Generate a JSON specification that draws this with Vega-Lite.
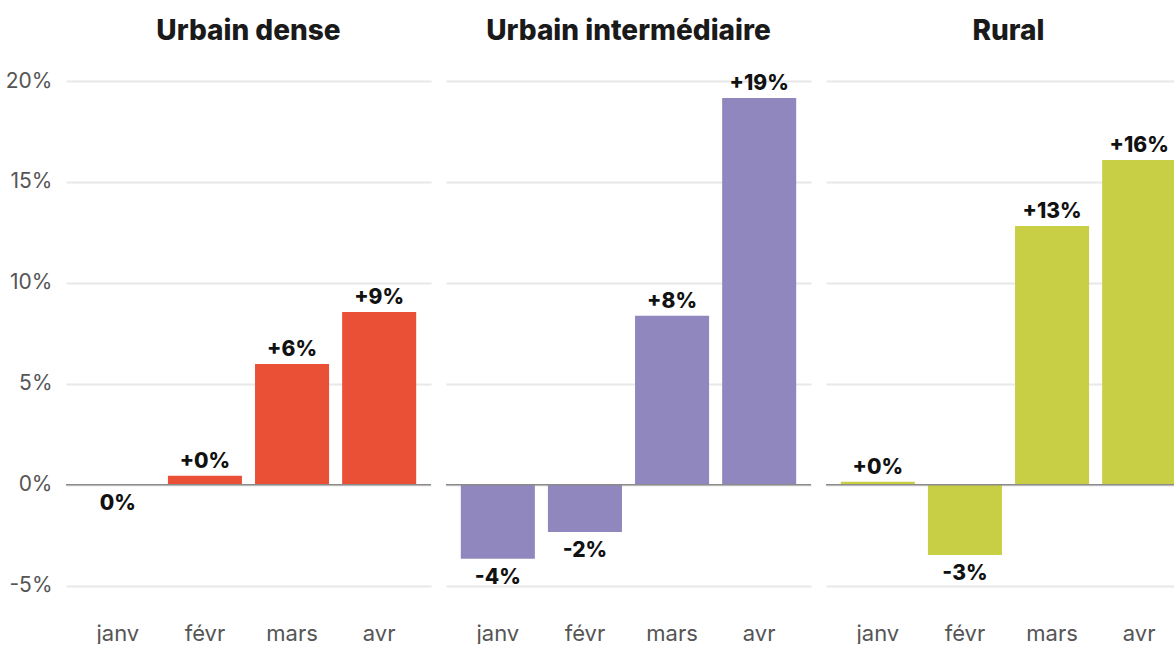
{
  "$schema": "https://vega.github.io/schema/vega-lite/v6.json",
  "background": "white",
  "padding": {"left": 5, "top": 18, "right": 0, "bottom": 0},
  "config": {
    "font": "Inter",
    "view": {"stroke": null},
    "facet": {"spacing": 13}
  },
  "data": {
    "values": [
      {"zone": "Urbain dense", "mois": "janv", "valeur": 0, "label": "0%"},
      {"zone": "Urbain dense", "mois": "févr", "valeur": 0.45, "label": "+0%"},
      {"zone": "Urbain dense", "mois": "mars", "valeur": 5.99, "label": "+6%"},
      {"zone": "Urbain dense", "mois": "avr", "valeur": 8.56, "label": "+9%"},
      {"zone": "Urbain intermédiaire", "mois": "janv", "valeur": -3.66, "label": "-4%"},
      {"zone": "Urbain intermédiaire", "mois": "févr", "valeur": -2.33, "label": "-2%"},
      {"zone": "Urbain intermédiaire", "mois": "mars", "valeur": 8.37, "label": "+8%"},
      {"zone": "Urbain intermédiaire", "mois": "avr", "valeur": 19.16, "label": "+19%"},
      {"zone": "Rural", "mois": "janv", "valeur": 0.15, "label": "+0%"},
      {"zone": "Rural", "mois": "févr", "valeur": -3.47, "label": "-3%"},
      {"zone": "Rural", "mois": "mars", "valeur": 12.82, "label": "+13%"},
      {"zone": "Rural", "mois": "avr", "valeur": 16.09, "label": "+16%"}
    ]
  },
  "facet": {
    "column": {
      "field": "zone",
      "type": "nominal",
      "sort": ["Urbain dense", "Urbain intermédiaire", "Rural"],
      "title": null,
      "header": {
        "labelFontSize": 28,
        "labelFontWeight": 800,
        "labelColor": "#1a1a1a",
        "labelPadding": 26
      }
    }
  },
  "spec": {
    "width": 365,
    "height": 525,
    "encoding": {
      "x": {
        "field": "mois",
        "type": "nominal",
        "sort": ["janv", "févr", "mars", "avr"],
        "scale": {"paddingInner": 0.15, "paddingOuter": 0.17},
        "axis": {
          "title": null,
          "labelAngle": 0,
          "ticks": false,
          "domain": false,
          "labelFontSize": 22,
          "labelColor": "#555555",
          "labelPadding": 17
        }
      },
      "y": {
        "field": "valeur",
        "type": "quantitative",
        "scale": {"domain": [-6, 20], "nice": false, "zero": false},
        "axis": {
          "title": null,
          "values": [-5, 0, 5, 10, 15, 20],
          "labelExpr": "datum.value + '%'",
          "ticks": false,
          "domain": false,
          "labelFontSize": 21,
          "labelColor": "#555555",
          "labelPadding": 13,
          "gridColor": "#e8e8e8",
          "gridWidth": 2
        }
      }
    },
    "layer": [
      {
        "mark": {"type": "bar"},
        "encoding": {
          "color": {
            "field": "zone",
            "type": "nominal",
            "scale": {
              "domain": ["Urbain dense", "Urbain intermédiaire", "Rural"],
              "range": ["#E95036", "#9087BE", "#C8CF44"]
            },
            "legend": null
          }
        }
      },
      {
        "transform": [{"filter": "datum.mois == 'janv'"}],
        "mark": {"type": "rule", "color": "#8a8a8a", "strokeWidth": 1.5},
        "encoding": {"y": {"datum": 0}, "x": null}
      },
      {
        "transform": [{"filter": "datum.valeur > 0"}],
        "mark": {"type": "text", "baseline": "bottom", "dy": -4, "fontSize": 21, "fontWeight": 800, "color": "#111111"},
        "encoding": {"text": {"field": "label"}}
      },
      {
        "transform": [{"filter": "datum.valeur <= 0"}],
        "mark": {"type": "text", "baseline": "top", "dy": 8, "fontSize": 21, "fontWeight": 800, "color": "#111111"},
        "encoding": {"text": {"field": "label"}}
      }
    ]
  }
}
